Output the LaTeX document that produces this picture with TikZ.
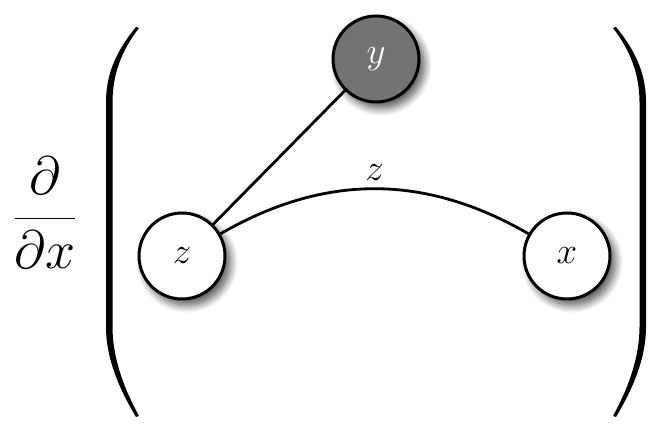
\RequirePackage{fix-cm}
\documentclass[tikz,border=0pt]{standalone}
\usetikzlibrary{shadows.blur}
\newcommand{\nodesize}{\fontsize{37}{42}\selectfont}
\begin{document}
\begin{tikzpicture}[x=1pt,y=1pt,
  gnode/.style={circle, draw=black, line width=3pt, minimum size=86pt, inner sep=0pt,
    blur shadow={shadow xshift=5pt, shadow yshift=-6pt, shadow blur radius=8pt, shadow blur steps=14, shadow opacity=70}},
  wnode/.style={gnode, fill=white},
  dnode/.style={gnode, fill=black!55, text=white},
  conn/.style={line width=2.8pt},
  paren/.style={fill=black}]
\useasboundingbox (0,0) rectangle (667,427);
\node (frac) at (45,214) {\fontsize{54}{60}\selectfont$\displaystyle\frac{\partial}{\partial x}$};
\node[dnode] (y) at (376,368) {\nodesize$y$};
\node[wnode] (z) at (182,171) {\nodesize$z$};
\node[wnode] (x) at (567,171) {\nodesize$x$};
\draw[conn] (z) -- (y);
\draw[conn] (z) to[bend left=30] node[midway, above=3pt] (lz) {\nodesize$z$} (x);
% left parenthesis
\path[paren] (136,400) .. controls (118,378) and (106,355) .. (106,325) -- (106,100)
  .. controls (106,70) and (118,40) .. (136,10)
  -- (139,11) .. controls (122,42) and (112.5,72) .. (112.5,100) -- (112.5,325)
  .. controls (112.5,353) and (122,377) .. (139,399) -- cycle;
% right parenthesis
\path[paren] (616,400) .. controls (634,378) and (646,355) .. (646,325) -- (646,100)
  .. controls (646,70) and (634,40) .. (616,10)
  -- (613,11) .. controls (630,42) and (639.5,72) .. (639.5,100) -- (639.5,325)
  .. controls (639.5,353) and (630,377) .. (613,399) -- cycle;
\end{tikzpicture}
\end{document}
